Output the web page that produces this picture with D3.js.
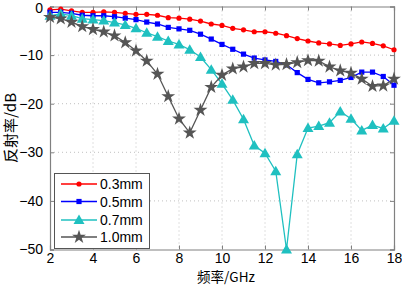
<!DOCTYPE html>
<html>
<head>
<meta charset="utf-8">
<script src="https://cdn.jsdelivr.net/npm/d3@7"></script>
<style>
body { margin: 0; background: #fff; }
text { font-family: Arial, "Liberation Sans", sans-serif; }
</style>
</head>
<body>
<div id="chart"></div>
<script>
var w = 402;
var h = 286;

// frequency points (GHz)
var freq = [2, 2.5, 3, 3.5, 4, 4.5, 5, 5.5, 6, 6.5, 7, 7.5, 8, 8.5, 9, 9.5, 10,
            10.5, 11, 11.5, 12, 12.5, 13, 13.5, 14, 14.5, 15, 15.5, 16, 16.5, 17, 17.5, 18];

var s03 = [-0.7, -0.55, -0.9, -1.2, -1.2, -1.1, -1.2, -1.4, -1.6, -1.6, -1.8, -2.3, -2.4, -2.6, -3.0, -3.6, -3.9,
           -4.5, -4.8, -5.2, -5.2, -5.5, -6.0, -6.6, -7.1, -7.5, -7.7, -8.0, -7.7, -7.3, -7.6, -8.1, -8.9];
var s05 = [-1.2, -1.2, -1.4, -1.8, -1.9, -1.9, -2.1, -2.4, -2.7, -3.2, -3.6, -4.3, -4.6, -4.9, -5.7, -6.7, -7.8,
           -8.8, -9.8, -10.6, -11.0, -11.3, -12.0, -13.6, -15.0, -15.7, -15.5, -15.2, -14.6, -13.5, -13.5, -14.4, -16.2];
var s07 = [-1.9, -1.5, -1.9, -2.5, -2.7, -2.9, -3.3, -3.8, -4.5, -5.4, -6.2, -7.1, -7.8, -8.9, -10.4, -13.0, -15.9,
           -19.2, -23.2, -28.6, -30.2, -33.9, -50, -30.4, -25.0, -24.6, -23.9, -21.6, -23.1, -25.5, -24.4, -25.1, -23.5];
var s10 = [-2.2, -2.5, -3.2, -4.1, -4.7, -5.2, -6.0, -7.4, -9.1, -11.2, -13.9, -18.5, -23.1, -26.0, -21.3, -16.6, -14.1,
           -12.8, -12.4, -11.7, -11.7, -12.0, -11.9, -11.5, -11.1, -11.2, -12.4, -13.2, -13.7, -14.9, -16.4, -16.3, -14.9];

var names = ["0.3mm", "0.5mm", "0.7mm", "1.0mm"];
var xTicks = [2, 4, 6, 8, 10, 12, 14, 16, 18];
var yTicks = [0, -10, -20, -30, -40, -50];

var series = [
  { name: names[0], values: s03, color: "#ff0000", marker: "circle" },
  { name: names[1], values: s05, color: "#0000ff", marker: "square" },
  { name: names[2], values: s07, color: "#1fc0c0", marker: "triangle" },
  { name: names[3], values: s10, color: "#555555", marker: "star" }
];

var pLeft = 50, pRight = 394, pTop = 6.5, pBottom = 249.5;

var x = d3.scaleLinear().domain([2, 18]).range([pLeft, pRight]);
var y = d3.scaleLinear().domain([-50, 0]).range([pBottom, pTop]);

var svg = d3.select("#chart")
            .append("svg")
            .attr("width", w)
            .attr("height", h);

// grid
svg.append("g")
   .selectAll("line")
   .data(xTicks.slice(1, -1))
   .enter()
   .append("line")
   .attr("x1", function(d) { return x(d); })
   .attr("x2", function(d) { return x(d); })
   .attr("y1", pTop)
   .attr("y2", pBottom)
   .attr("stroke", "#b0b0b0")
   .attr("stroke-width", 0.8)
   .attr("stroke-dasharray", "1,3");

svg.append("g")
   .selectAll("line")
   .data(yTicks.slice(1, -1))
   .enter()
   .append("line")
   .attr("x1", pLeft)
   .attr("x2", pRight)
   .attr("y1", function(d) { return y(d); })
   .attr("y2", function(d) { return y(d); })
   .attr("stroke", "#b0b0b0")
   .attr("stroke-width", 0.8)
   .attr("stroke-dasharray", "1,3");

// axes
var xAxis = d3.axisBottom(x).tickValues(xTicks).tickSize(-4).tickPadding(4);
var yAxis = d3.axisLeft(y).tickValues(yTicks).tickSize(-4).tickPadding(7)
              .tickFormat(function(d) { return d < 0 ? "\u2212" + Math.abs(d) : d; });

svg.append("g")
   .attr("transform", "translate(0," + pBottom + ")")
   .call(xAxis);
var gy = svg.append("g")
   .attr("transform", "translate(" + pLeft + ",0)")
   .call(yAxis);

// keep the top "0" inside the picture
gy.selectAll(".tick text")
  .filter(function(d) { return d === 0; })
  .attr("dy", "0.45em");

// mirror ticks on top/right
svg.append("g")
   .attr("transform", "translate(0," + pTop + ")")
   .call(d3.axisTop(x).tickValues(xTicks).tickSize(-4).tickFormat(""));
svg.append("g")
   .attr("transform", "translate(" + pRight + ",0)")
   .call(d3.axisRight(y).tickValues(yTicks).tickSize(-4).tickFormat(""));

svg.selectAll(".domain").attr("stroke", "#808080").attr("stroke-width", 1.2);
svg.selectAll(".tick line").attr("stroke", "#808080");
svg.selectAll(".tick text")
   .attr("fill", "#000")
   .style("font-size", "14px")
   .style("font-family", "Arial, 'Liberation Sans', sans-serif");

// axis titles
svg.append("text")
   .attr("x", (pLeft + pRight) / 2 + 4)
   .attr("y", 282)
   .attr("text-anchor", "middle")
   .style("font-size", "13.5px")
   .style("font-family", "'Noto Sans CJK SC', sans-serif")
   .text("频率/GHz");

svg.append("text")
   .attr("transform", "translate(16," + ((pTop + pBottom) / 2) + ") rotate(-90)")
   .attr("text-anchor", "middle")
   .style("font-size", "15px")
   .style("font-family", "'Noto Sans CJK SC', sans-serif")
   .text("反射率/dB");

var starPath = d3.symbol().type(d3.symbolStar).size(60)();
var triPath = "M0,-5.5L5.5,4L-5.5,4Z";

function drawMarker(g, s) {
  if (s.marker == "circle") {
    g.append("circle").attr("r", 2.6).attr("fill", s.color);
  } else if (s.marker == "square") {
    g.append("rect").attr("x", -2.6).attr("y", -2.6).attr("width", 5.2).attr("height", 5.2).attr("fill", s.color);
  } else if (s.marker == "triangle") {
    g.append("path").attr("d", triPath).attr("fill", s.color);
  } else {
    g.append("path").attr("d", starPath).attr("fill", s.color);
  }
}

var line = d3.line()
             .x(function(d) { return x(d[0]); })
             .y(function(d) { return y(d[1]); });

var plot = svg.append("g");

series.forEach(function(s) {
  var pts = freq.map(function(f, i) { return [f, s.values[i]]; });
  plot.append("path")
      .datum(pts)
      .attr("fill", "none")
      .attr("stroke", s.color)
      .attr("stroke-width", 1.3)
      .attr("d", line);
  plot.selectAll(null)
      .data(pts)
      .enter()
      .append("g")
      .attr("transform", function(d) { return "translate(" + x(d[0]) + "," + y(d[1]) + ")"; })
      .each(function() { drawMarker(d3.select(this), s); });
});

// legend
var lg = svg.append("g").attr("transform", "translate(54,173)");
lg.append("rect")
  .attr("x", 0.5).attr("y", 0.5)
  .attr("width", 95).attr("height", 75)
  .attr("fill", "#fff")
  .attr("stroke", "#555")
  .attr("stroke-width", 1);

var rowY = [11, 28.5, 47, 64];
series.forEach(function(s, i) {
  var row = lg.append("g").attr("transform", "translate(0," + rowY[i] + ")");
  row.append("line")
     .attr("x1", 7).attr("x2", 43)
     .attr("stroke", s.color)
     .attr("stroke-width", 1.3);
  var m = row.append("g").attr("transform", "translate(25,0)");
  drawMarker(m, s);
  row.append("text")
     .attr("x", 46)
     .attr("y", 5)
     .style("font-size", "14px")
     .text(s.name);
});
</script>
</body>
</html>
